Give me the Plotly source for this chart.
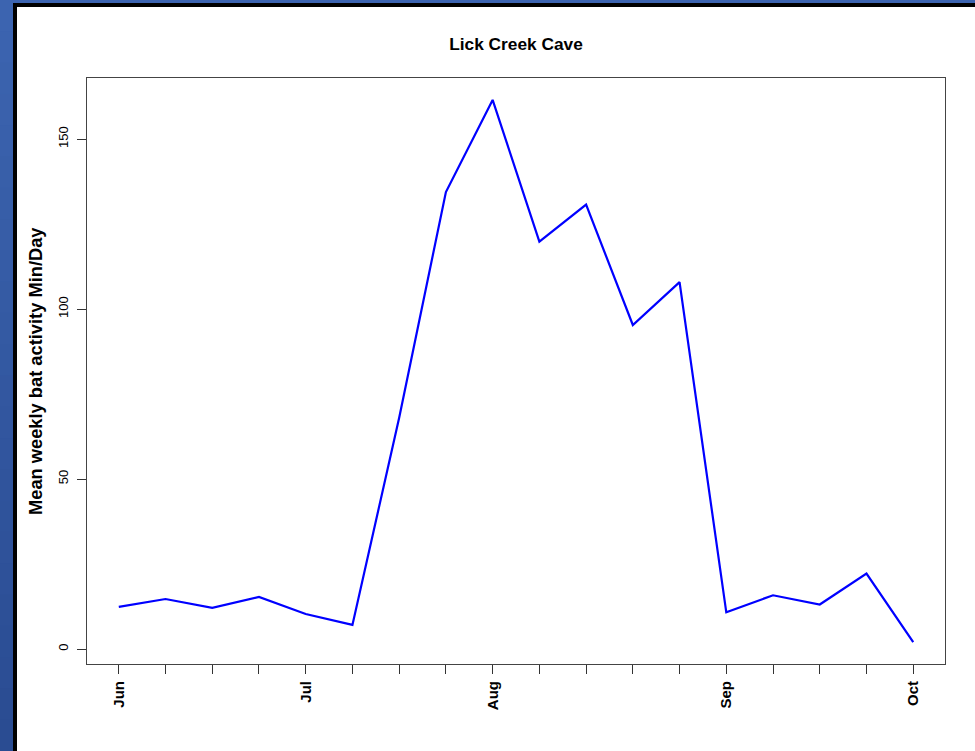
import plotly.graph_objects as go

# Weekly survey index (June through early October) and mean activity
week_index = list(range(18))
activity_min_per_day = [12.4, 14.7, 12.1, 15.3, 10.3, 7.1, 68.0, 134.4, 161.5,
                        119.8, 130.7, 95.3, 107.9, 10.8, 15.8, 13.1, 22.2, 2.0]
month_labels = ["Jun", "", "", "", "Jul", "", "", "", "Aug",
                "", "", "", "", "Sep", "", "", "", "Oct"]
y_ticks = [0, 50, 100, 150]

W, H = 975, 751
L, R, T, B = 87, 945, 78, 664  # plot box in pixels


def px_x(p):
    return (p - L) / (R - L)


def px_y(p):
    return (B - p) / (B - T)


fig = go.Figure()
fig.add_trace(go.Scatter(
    x=week_index, y=activity_min_per_day, mode="lines",
    line=dict(color="#0000FF", width=2.2), hoverinfo="skip", showlegend=False,
))

# Slide frame: blue edge with a slight vertical gradient, then a black rule
shapes = []
n_bands = 24
top_c = (60, 100, 176)
bot_c = (42, 76, 146)
for i in range(n_bands):
    t = i / (n_bands - 1)
    c = tuple(round(top_c[k] + (bot_c[k] - top_c[k]) * t) for k in range(3))
    y0 = i * H / n_bands
    y1 = (i + 1) * H / n_bands + 1
    shapes.append(dict(type="rect", xref="paper", yref="paper",
                       x0=px_x(0), x1=px_x(13), y0=px_y(y1), y1=px_y(y0),
                       fillcolor="rgb(%d,%d,%d)" % c, line=dict(width=0), layer="below"))
shapes.append(dict(type="rect", xref="paper", yref="paper",
                   x0=px_x(0), x1=px_x(W + 2), y0=px_y(3), y1=px_y(-2),
                   fillcolor="rgb(60,100,176)", line=dict(width=0), layer="below"))
shapes.append(dict(type="rect", xref="paper", yref="paper",
                   x0=px_x(13), x1=px_x(W + 2), y0=px_y(7), y1=px_y(3),
                   fillcolor="#000000", line=dict(width=0), layer="below"))
shapes.append(dict(type="rect", xref="paper", yref="paper",
                   x0=px_x(13), x1=px_x(17), y0=px_y(H + 2), y1=px_y(3),
                   fillcolor="#000000", line=dict(width=0), layer="below"))

axis_common = dict(showgrid=False, zeroline=False, showline=True, mirror=True,
                   linecolor="#444444", linewidth=1, ticks="outside", ticklen=9,
                   tickcolor="#333333", tickwidth=1)

fig.update_layout(
    width=W, height=H,
    margin=dict(l=L, r=W - R, t=T, b=H - B),
    paper_bgcolor="white", plot_bgcolor="white",
    font=dict(family="Liberation Sans, Arial, sans-serif", color="black"),
    title=dict(text="<b>Lick Creek Cave</b>", x=px_x(516), xref="paper",
               y=1 - 44 / H, yref="container", xanchor="center", yanchor="middle",
               font=dict(size=17.3, color="black")),
    xaxis=dict(axis_common, range=[-0.68, 17.68], tickmode="array",
               tickvals=week_index,
               ticktext=["<b>%s</b>" % m if m else "" for m in month_labels],
               tickangle=-90, tickfont=dict(size=15, color="black"),
               ticklabelstandoff=1),
    yaxis=dict(axis_common, range=[-4.41, 167.94], tickmode="array",
               tickvals=y_ticks, ticktext=[str(v) for v in y_ticks],
               tickangle=-90, tickfont=dict(size=13, color="black"),
               ticklabelstandoff=4),
    annotations=[dict(text="<b>Mean weekly bat activity Min/Day</b>",
                      xref="paper", yref="paper", x=px_x(35), y=px_y(371),
                      xanchor="center", yanchor="middle", textangle=-90,
                      showarrow=False, font=dict(size=18.3, color="black"))],
    shapes=shapes,
)

fig.write_html("out.html")
